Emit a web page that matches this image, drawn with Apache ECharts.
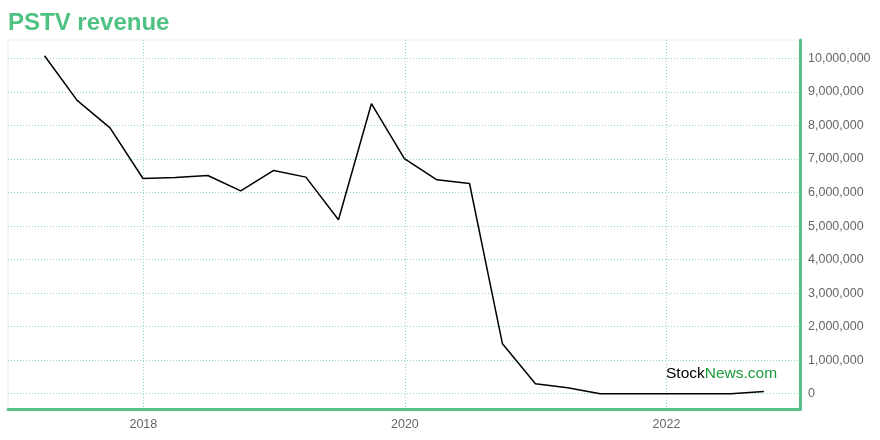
<!DOCTYPE html>
<html>
<head>
<meta charset="utf-8">
<script src="https://cdn.jsdelivr.net/npm/echarts@6/dist/echarts.min.js"></script>
<style>
html,body{margin:0;padding:0;background:#fff;}
#chart{width:880px;height:440px;}
</style>
</head>
<body>
<div id="chart"></div>
<script>
const title = 'PSTV revenue';
const dates = [
  '2017-03-31','2017-06-30','2017-09-30','2017-12-31',
  '2018-03-31','2018-06-30','2018-09-30','2018-12-31',
  '2019-03-31','2019-06-30','2019-09-30','2019-12-31',
  '2020-03-31','2020-06-30','2020-09-30','2020-12-31',
  '2021-03-31','2021-06-30','2021-09-30','2021-12-31',
  '2022-03-31','2022-06-30','2022-09-30'
];
const revenue = [
  10080000, 8750000, 7930000, 6420000,
  6450000, 6510000, 6050000, 6660000,
  6460000, 5190000, 8650000, 7010000,
  6380000, 6270000, 1490000, 300000,
  180000, 0, 0, 0,
  0, 0, 70000
];
const xRange = ['2016-12-19', '2023-01-09'];
const yRange = [-470000, 10550000];
const yStep = 1000000;
const xStepDays = 730.5;

const DAY = 86400000;
const seriesData = dates.map((d, i) => [Date.parse(d + 'T00:00:00Z'), revenue[i]]);

const green = '#58c189';
const gridGreen = '#8fdbb0';

const chart = echarts.init(document.getElementById('chart'), null, {renderer: 'canvas'});
chart.setOption({
  animation: false,
  backgroundColor: '#ffffff',
  title: {
    text: title,
    left: 3,
    top: 6,
    textStyle: {
      color: '#4fc283',
      fontSize: 24,
      fontWeight: 'bold',
      fontFamily: 'Liberation Sans, Arial, sans-serif'
    }
  },
  grid: {
    left: 8,
    right: 80,
    top: 40,
    bottom: 30.5,
    show: true,
    borderColor: '#eeeeee',
    borderWidth: 1,
    containLabel: false
  },
  xAxis: {
    type: 'value',
    min: Date.parse(xRange[0] + 'T00:00:00Z'),
    max: Date.parse(xRange[1] + 'T00:00:00Z'),
    minInterval: xStepDays * DAY,
    maxInterval: xStepDays * DAY,
    axisLine: {show: true, onZero: false, lineStyle: {color: green, width: 3}},
    axisTick: {show: false},
    axisLabel: {
      showMinLabel: false,
      showMaxLabel: false,
      color: '#666666',
      fontSize: 12.5,
      fontFamily: 'Liberation Sans, Arial, sans-serif',
      margin: 9,
      formatter: v => String(new Date(v).getUTCFullYear())
    },
    splitLine: {
      show: true,
      showMinLine: false,
      showMaxLine: false,
      lineStyle: {color: gridGreen, type: [1, 2], width: 1}
    }
  },
  yAxis: {
    type: 'value',
    position: 'right',
    min: yRange[0],
    max: yRange[1],
    minInterval: yStep,
    maxInterval: yStep,
    axisLine: {show: true, lineStyle: {color: green, width: 3}},
    axisTick: {show: false},
    axisLabel: {
      showMinLabel: false,
      showMaxLabel: false,
      color: '#666666',
      fontSize: 12.5,
      fontFamily: 'Liberation Sans, Arial, sans-serif',
      margin: 8,
      formatter: v => v.toLocaleString('en-US')
    },
    splitLine: {
      show: true,
      showMinLine: false,
      showMaxLine: false,
      lineStyle: {color: gridGreen, type: [1, 2], width: 1}
    }
  },
  graphic: [{
    type: 'text',
    left: 666,
    top: 366,
    z: 10,
    style: {
      text: '{a|Stock}{b|News.com}',
      rich: {
        a: {fill: '#000000', fontSize: 15.5, fontFamily: 'Liberation Sans, Arial, sans-serif'},
        b: {fill: '#1a9a3a', fontSize: 15.5, fontFamily: 'Liberation Sans, Arial, sans-serif'}
      }
    }
  }],
  series: [{
    type: 'line',
    data: seriesData,
    showSymbol: false,
    symbol: 'none',
    lineStyle: {color: '#000000', width: 1.5},
    z: 5
  }]
});
</script>
</body>
</html>
